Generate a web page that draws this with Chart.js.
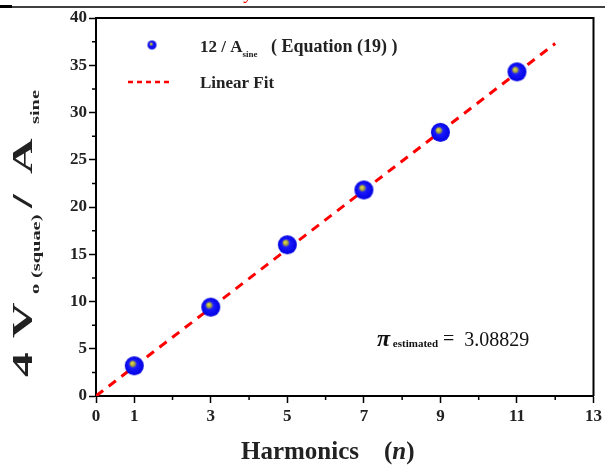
<!DOCTYPE html>
<html>
<head>
<meta charset="utf-8">
<script src="https://cdn.jsdelivr.net/npm/chart.js@4.4.1/dist/chart.umd.min.js"></script>
<style>
  html, body { margin: 0; padding: 0; background: #fff; }
  #wrap { width: 605px; height: 466px; position: relative; }
</style>
</head>
<body>
<div id="wrap"><canvas id="chart"></canvas></div>
<script>
// data
const harmonics = [1, 3, 5, 7, 9, 11];
const ratioValues = [3.2, 9.4, 16.0, 21.8, 27.9, 34.3];
const fitX = [0, 12];
const fitY = [0, 37.3];
const xLabelTicks = [0, 1, 3, 5, 7, 9, 11, 13];
const piEstimate = '3.08829';

const serif = "'Liberation Serif', 'DejaVu Serif', serif";

// shaded ball used as the point marker
function makeBall(r){
	const c = document.createElement('canvas');
	c.width = r * 2 + 2;
	c.height = r * 2 + 2;
	const g = c.getContext('2d');
	const cx = r + 1, cy = r + 1;
	const grad = g.createRadialGradient(cx - r * 0.25, cy - r * 0.3, 0, cx, cy, r);
	grad.addColorStop(0, '#f2e84a');
	grad.addColorStop(0.25, '#a0a040');
	grad.addColorStop(0.42, '#1a1aff');
	grad.addColorStop(1, '#0000e0');
	g.fillStyle = grad;
	g.beginPath();
	g.arc(cx, cy, r, 0, Math.PI * 2);
	g.fill();
	return c;
}
const bigBall = makeBall(9.5);
const smallBall = makeBall(4.5);

const scatterPoints = harmonics.map((n, i) => ({x: n, y: ratioValues[i]}));
const fitPoints = fitX.map((n, i) => ({x: n, y: fitY[i]}));

function drawSub(ctx, parts, x, y){
	// parts: [text, font, dy]
	let cx = x;
	parts.forEach(p => {
		ctx.font = p[1];
		ctx.fillText(p[0], cx, y + (p[2] || 0));
		cx += ctx.measureText(p[0]).width;
	});
}

function isMajorX(v){ return xLabelTicks.includes(v); }
function isMajorY(v){ return v % 5 === 0; }

const decorPlugin = {
	id: 'decor',
	afterDraw(chart){
		const ctx = chart.ctx;
		const a = chart.chartArea;
		const xs = chart.scales.x, ys = chart.scales.y;
		ctx.save();

		// frame top and right
		ctx.strokeStyle = '#000';
		ctx.lineWidth = 2;
		ctx.beginPath();
		ctx.moveTo(a.left, a.top);
		ctx.lineTo(a.right, a.top);
		ctx.lineTo(a.right, a.bottom);
		ctx.stroke();

		// short minor ticks
		ctx.lineWidth = 1.5;
		ctx.beginPath();
		xs.ticks.forEach(t => {
			if(isMajorX(t.value)) return;
			const px = xs.getPixelForValue(t.value);
			ctx.moveTo(px, a.bottom);
			ctx.lineTo(px, a.bottom + 4);
		});
		ys.ticks.forEach(t => {
			if(isMajorY(t.value)) return;
			const py = ys.getPixelForValue(t.value);
			ctx.moveTo(a.left, py);
			ctx.lineTo(a.left - 4, py);
		});
		ctx.stroke();

		// header rule of the page
		ctx.lineWidth = 1.5;
		ctx.beginPath();
		ctx.moveTo(12, 7);
		ctx.lineTo(605, 7);
		ctx.stroke();
		ctx.fillStyle = '#000';
		ctx.fillRect(0, 5, 12, 3);
		ctx.fillStyle = '#e00';
		ctx.font = 'italic 18px ' + serif;
		ctx.textBaseline = 'alphabetic';
		ctx.fillText('y', 245, -1);

		// legend
		ctx.fillStyle = '#222';
		ctx.textAlign = 'left';
		ctx.drawImage(smallBall, 152 - smallBall.width / 2, 45 - smallBall.height / 2);
		drawSub(ctx, [
			['12 / A', 'bold 17px ' + serif, 0],
			['sine', 'bold 9px ' + serif, 5],
			['   ( Equation (19) )', 'bold 18px ' + serif, 0]
		], 200, 52);
		ctx.strokeStyle = '#ff0000';
		ctx.lineWidth = 2.5;
		ctx.setLineDash([5, 4]);
		ctx.beginPath();
		ctx.moveTo(128, 82);
		ctx.lineTo(173, 82);
		ctx.stroke();
		ctx.setLineDash([]);
		ctx.font = 'bold 17px ' + serif;
		ctx.fillText('Linear Fit', 200, 88);

		// estimate annotation
		ctx.fillStyle = '#111';
		drawSub(ctx, [
			['\u03c0', 'bold italic 24px ' + serif, 0],
			[' estimated', 'bold 11px ' + serif, 1],
			[' =  ', '20px ' + serif, -1],
			[piEstimate, '20px ' + serif, 0]
		], 377, 346);

		// x title
		ctx.fillStyle = '#222';
		drawSub(ctx, [
			['Harmonics', 'bold 25px ' + serif, 0],
			['    (', 'bold 25px ' + serif, 0],
			['n', 'bold italic 25px ' + serif, 0],
			[')', 'bold 25px ' + serif, 0]
		], 241, 459);

		// y title, rotated and stretched along its baseline
		const sx = 1.7;
		const pieces = [
			['4', 'bold 29px ' + serif, 377, 32],
			['V', 'bold 29px ' + serif, 338, 32],
			['o', 'bold 12px ' + serif, 294, 39],
			['(squae)', 'bold 12px ' + serif, 278, 40],
			['/', 'bold 29px ' + serif, 208, 32],
			['A', 'bold 29px ' + serif, 174, 32],
			['sine', 'bold 12px ' + serif, 124, 39]
		];
		pieces.forEach(p => {
			ctx.save();
			ctx.translate(p[3], p[2]);
			ctx.rotate(-Math.PI / 2);
			ctx.scale(sx, 1);
			ctx.font = p[1];
			ctx.fillText(p[0], 0, 0);
			ctx.restore();
		});

		ctx.restore();
	}
};

const tickFont = {family: serif, size: 17, weight: 'bold'};

new Chart(document.getElementById('chart'), {
	type: 'scatter',
	data: {
		datasets: [{
			label: 'fit',
			data: fitPoints,
			showLine: true,
			borderColor: '#ff0000',
			borderWidth: 3,
			borderDash: [9, 7],
			pointRadius: 0,
			order: 2
		}, {
			label: 'ratio',
			data: scatterPoints,
			pointStyle: bigBall,
			pointRadius: 9,
			order: 1
		}]
	},
	options: {
		responsive: true,
		maintainAspectRatio: false,
		animation: false,
		devicePixelRatio: 1,
		layout: {padding: {left: 60, right: 10, top: 18, bottom: 40}},
		plugins: {legend: {display: false}, tooltip: {enabled: false}},
		scales: {
			x: {
				type: 'linear',
				min: 0,
				max: 13,
				afterFit(scale){ scale.height = 30; },
				ticks: {
					stepSize: 1,
					autoSkip: false,
					maxRotation: 0,
					color: '#222',
					font: tickFont,
					padding: 3,
					callback: v => isMajorX(v) ? String(v) : ''
				},
				grid: {
					drawOnChartArea: false, tickLength: 7, tickWidth: 1.5,
					tickColor: c => isMajorX(c.tick.value) ? '#000' : 'rgba(0,0,0,0)'
				},
				border: {color: '#000', width: 2}
			},
			y: {
				type: 'linear',
				min: 0,
				max: 40,
				afterFit(scale){ scale.width = 36; },
				ticks: {
					stepSize: 2.5,
					autoSkip: false,
					color: '#222',
					font: tickFont,
					padding: 2,
					callback: v => isMajorY(v) ? String(v) : ''
				},
				grid: {
					drawOnChartArea: false, tickLength: 7, tickWidth: 1.5,
					tickColor: c => isMajorY(c.tick.value) ? '#000' : 'rgba(0,0,0,0)'
				},
				border: {color: '#000', width: 2}
			}
		}
	},
	plugins: [decorPlugin]
});
</script>
</body>
</html>
